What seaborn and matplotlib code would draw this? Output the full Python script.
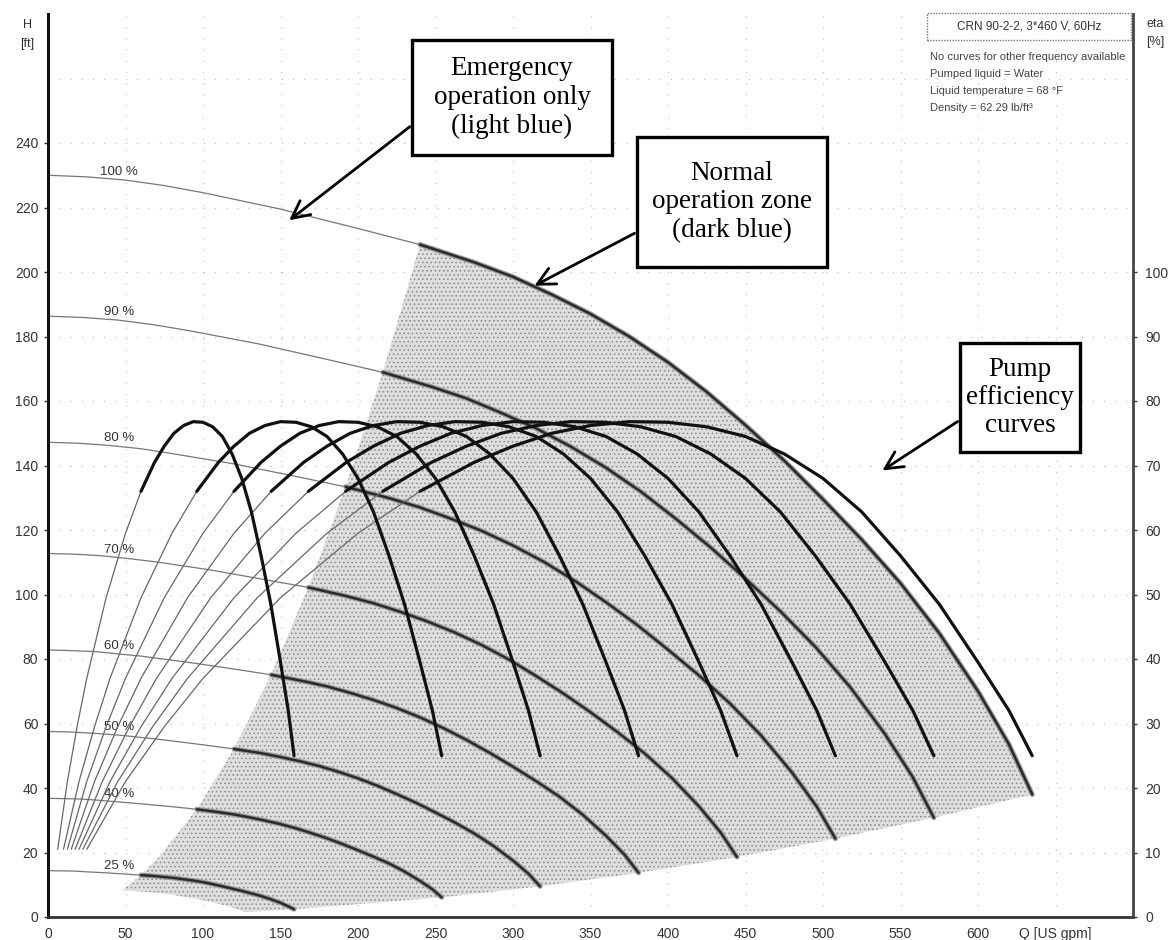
import numpy as np
import seaborn as sns
import matplotlib
matplotlib.use("Agg")
import matplotlib.pyplot as plt
from matplotlib.patches import Rectangle, Polygon, FancyArrowPatch

sns.set_theme(style="white")
plt.rcParams["font.family"] = ["Liberation Sans", "DejaVu Sans"]
plt.rcParams["hatch.linewidth"] = 0.6

# ---- pump curves, CRN 90-2-2 (flow in US gpm, head in ft) ----
speed_labels = ["100 %", "90 %", "80 %", "70 %", "60 %", "50 %", "40 %", "25 %"]

flow_100 = [0, 25, 50, 75, 100, 150, 200, 240, 275, 300, 325, 350, 375, 400,
            425, 450, 475, 500, 525, 550, 575, 600, 620, 635]
head_100 = [230.0, 229.5, 228.5, 226.8, 224.6, 219.5, 213.5, 208.5, 203.0, 198.5, 193.0, 187.0,
            180.0, 172.0, 162.8, 152.5, 141.5, 129.5, 117.0, 103.5, 88.0, 70.0, 53.5, 38.0]

flow_90 = [0, 22.5, 45, 67.5, 90, 135, 180, 216, 247.5, 270, 292.5, 315, 337.5, 360,
           382.5, 405, 427.5, 450, 472.5, 495, 517.5, 540, 558, 571.5]
head_90 = [186.3, 185.9, 185.1, 183.7, 181.9, 177.8, 172.9, 168.9, 164.4, 160.8, 156.3, 151.5,
           145.8, 139.3, 131.9, 123.5, 114.6, 104.9, 94.8, 83.8, 71.3, 56.7, 43.3, 30.8]

flow_80 = [0, 20, 40, 60, 80, 120, 160, 192, 220, 240, 260, 280, 300, 320,
           340, 360, 380, 400, 420, 440, 460, 480, 496, 508]
head_80 = [147.2, 146.9, 146.2, 145.2, 143.7, 140.5, 136.6, 133.4, 129.9, 127.0, 123.5, 119.7,
           115.2, 110.1, 104.2, 97.6, 90.6, 82.9, 74.9, 66.2, 56.3, 44.8, 34.2, 24.3]

flow_70 = [0, 17.5, 35, 52.5, 70, 105, 140, 168, 192.5, 210, 227.5, 245, 262.5, 280,
           297.5, 315, 332.5, 350, 367.5, 385, 402.5, 420, 434, 444.5]
head_70 = [112.7, 112.5, 112.0, 111.1, 110.1, 107.6, 104.6, 102.2, 99.5, 97.3, 94.6, 91.6,
           88.2, 84.3, 79.8, 74.7, 69.3, 63.5, 57.3, 50.7, 43.1, 34.3, 26.2, 18.6]

flow_60 = [0, 15, 30, 45, 60, 90, 120, 144, 165, 180, 195, 210, 225, 240,
           255, 270, 285, 300, 315, 330, 345, 360, 372, 381]
head_60 = [82.8, 82.6, 82.3, 81.6, 80.9, 79.0, 76.9, 75.1, 73.1, 71.5, 69.5, 67.3,
           64.8, 61.9, 58.6, 54.9, 50.9, 46.6, 42.1, 37.3, 31.7, 25.2, 19.3, 13.7]

flow_50 = [0, 12.5, 25, 37.5, 50, 75, 100, 120, 137.5, 150, 162.5, 175, 187.5, 200,
           212.5, 225, 237.5, 250, 262.5, 275, 287.5, 300, 310, 317.5]
head_50 = [57.5, 57.4, 57.1, 56.7, 56.2, 54.9, 53.4, 52.1, 50.8, 49.6, 48.3, 46.8,
           45.0, 43.0, 40.7, 38.1, 35.4, 32.4, 29.3, 25.9, 22.0, 17.5, 13.4, 9.5]

flow_40 = [0, 10, 20, 30, 40, 60, 80, 96, 110, 120, 130, 140, 150, 160,
           170, 180, 190, 200, 210, 220, 230, 240, 248, 254]
head_40 = [36.8, 36.7, 36.6, 36.3, 35.9, 35.1, 34.2, 33.4, 32.5, 31.8, 30.9, 29.9,
           28.8, 27.5, 26.0, 24.4, 22.6, 20.7, 18.7, 16.6, 14.1, 11.2, 8.6, 6.1]

flow_25 = [0, 6.25, 12.5, 18.75, 25, 37.5, 50, 60, 68.75, 75, 81.25, 87.5, 93.75, 100,
           106.25, 112.5, 118.75, 125, 131.25, 137.5, 143.75, 150, 155, 158.75]
head_25 = [14.4, 14.3, 14.3, 14.2, 14.0, 13.7, 13.3, 13.0, 12.7, 12.4, 12.1, 11.7,
           11.3, 10.8, 10.2, 9.5, 8.8, 8.1, 7.3, 6.5, 5.5, 4.4, 3.3, 2.4]

# efficiency (right axis, %) at each curve's flows, starting from its second flow point
eta_values = [10.5, 21.0, 29.5, 37.0, 49.5, 59.5, 66.0, 70.5, 73.0, 75.0, 76.2, 76.8,
              76.7, 76.0, 74.5, 71.8, 68.0, 62.8, 56.0, 48.5, 39.5, 32.0, 25.0]

# normal operation zone: right edge (max flow), bottom edge, left edge (min flow)
zone_right_flow = [571.5, 508, 444.5, 381, 317.5, 254, 158.75, 127]
zone_right_head = [30.8, 24.3, 18.6, 13.7, 9.5, 6.1, 2.4, 1.5]
zone_bottom_flow = [120, 110, 100, 90, 80, 70, 60, 48]
zone_bottom_head = [2.8, 4.1, 5.2, 6.1, 6.9, 7.5, 7.9, 8.3]
zone_left_flow = [60, 72, 96, 120, 144, 168, 192, 216]
zone_left_head = [13.0, 18.8, 33.4, 52.1, 75.1, 102.2, 133.4, 168.9]

flows = [flow_100, flow_90, flow_80, flow_70, flow_60, flow_50, flow_40, flow_25]
heads = [head_100, head_90, head_80, head_70, head_60, head_50, head_40, head_25]
split = 7  # first point of the normal operation range on each curve

W, H = 1170, 940
fig = plt.figure(figsize=(W / 100, H / 100), dpi=100)
fig.patch.set_facecolor("white")


def fx(px):
    return px / W


def fy(py):
    return 1 - py / H


ax = fig.add_axes([fx(48), fy(917), fx(1133) - fx(48), fy(14) - fy(917)])
ax.set_xlim(0, 700)
ax.set_ylim(0, 280)
ax.set_facecolor("white")

# sparse dotted grid
for q in range(50, 700, 50):
    ax.axvline(q, color="#bdbdbd", lw=0.8, ls=(0, (1, 9)), zorder=0.5)
for hh in range(20, 280, 20):
    ax.axhline(hh, color="#bdbdbd", lw=0.8, ls=(0, (1, 9)), zorder=0.5)

# normal operation zone
zone_q = flow_100[split:] + zone_right_flow + zone_bottom_flow + zone_left_flow
zone_h = head_100[split:] + zone_right_head + zone_bottom_head + zone_left_head
ax.add_patch(Polygon(np.column_stack([zone_q, zone_h]), closed=True,
                     facecolor="#dedede", edgecolor="#888888", hatch="....",
                     lw=0, zorder=1))

# Q-H curves: thin in the emergency range, heavy in the normal range
for q, h, lab in zip(flows, heads, speed_labels):
    sns.lineplot(x=q[:split + 1], y=h[:split + 1], ax=ax, color="#777777",
                 lw=0.9, estimator=None, sort=False, zorder=2)
    sns.lineplot(x=q[split:], y=h[split:], ax=ax, color="#9a9a9a",
                 lw=3.6, estimator=None, sort=False, zorder=3)
    sns.lineplot(x=q[split:], y=h[split:], ax=ax, color="#2a2a2a",
                 lw=1.8, estimator=None, sort=False, zorder=3.1)
    ax.text(46, np.interp(46, q, h) + 2.5, lab, fontsize=9.5, color="#333333",
            ha="center", va="center", zorder=5)

# efficiency curves on the right axis
ax2 = ax.twinx()
ax2.set_ylim(0, 140)
ax2.patch.set_visible(False)
for q in flows:
    qe = q[1:]
    sns.lineplot(x=qe[:split], y=eta_values[:split], ax=ax2,
                 color="#666666", lw=0.9, estimator=None, sort=False, zorder=2)
    sns.lineplot(x=qe[split - 1:], y=eta_values[split - 1:], ax=ax2,
                 color="#111111", lw=2.3, estimator=None, sort=False, zorder=4)

# axes, ticks, labels
ax.set_xticks(range(0, 700, 50))
ax.set_xticklabels([str(v) for v in range(0, 650, 50)] + ["Q [US gpm]"])
ax.set_yticks(range(0, 260, 20))
ax2.set_yticks(range(0, 110, 10))
for a in (ax, ax2):
    a.set_xlabel("")
    a.set_ylabel("")
    a.grid(False)
    for s in a.spines.values():
        s.set_visible(False)
ax.spines["left"].set_visible(True)
ax.spines["left"].set_color("#111111")
ax.spines["left"].set_linewidth(2.2)
ax.spines["bottom"].set_visible(True)
ax.spines["bottom"].set_color("#333333")
ax.spines["bottom"].set_linewidth(2.0)
ax2.spines["right"].set_visible(True)
ax2.spines["right"].set_color("#444444")
ax2.spines["right"].set_linewidth(2.0)
ax.tick_params(axis="both", labelsize=10, colors="#333333", length=3, width=1, pad=4)
ax2.tick_params(axis="y", labelsize=10, colors="#333333", length=3, width=1, pad=6)

fig.text(fx(27), fy(25), "H", fontsize=9, color="#333333", ha="center", va="center")
fig.text(fx(27), fy(44), "[ft]", fontsize=9, color="#333333", ha="center", va="center")
fig.text(fx(1155), fy(24), "eta", fontsize=9, color="#333333", ha="center", va="center")
fig.text(fx(1155), fy(42), "[%]", fontsize=9, color="#333333", ha="center", va="center")

# pump info
fig.patches.append(Rectangle((fx(927), fy(40)), fx(1131) - fx(927), fy(13) - fy(40),
                             transform=fig.transFigure, facecolor="white",
                             edgecolor="#777777", lw=1.0, ls=(0, (1, 1)), zorder=6))
fig.text(fx(1029), fy(26.5), "CRN 90-2-2, 3*460 V, 60Hz", fontsize=8.5,
         color="#333333", ha="center", va="center", zorder=7)
info = ["No curves for other frequency available", "Pumped liquid = Water",
        "Liquid temperature = 68 \u00b0F", "Density = 62.29 lb/ft\u00b3"]
for i, line in enumerate(info):
    fig.text(fx(930), fy(57 + 17 * i), line, fontsize=8, color="#444444",
             ha="left", va="center")

# callout boxes
serif = ["Liberation Serif", "DejaVu Serif"]
callouts = [
    ((412, 40, 612, 155), "Emergency\noperation only\n(light blue)", (412, 125), (287, 222)),
    ((637, 137, 827, 267), "Normal\noperation zone\n(dark blue)", (637, 232), (532, 287)),
    ((960, 343, 1080, 452), "Pump\nefficiency\ncurves", (960, 420), (880, 472)),
]
for (x0, y0, x1, y1), txt, start, tip in callouts:
    fig.patches.append(Rectangle((fx(x0), fy(y1)), fx(x1) - fx(x0), fy(y0) - fy(y1),
                                 transform=fig.transFigure, facecolor="white",
                                 edgecolor="black", lw=2.4, zorder=8))
    fig.text(fx((x0 + x1) / 2), fy((y0 + y1) / 2), txt, family=serif, fontsize=19.5,
             color="black", ha="center", va="center", linespacing=1.18, zorder=9)
    fig.add_artist(FancyArrowPatch(
        (fx(start[0]), fy(start[1])), (fx(tip[0]), fy(tip[1])),
        transform=fig.transFigure, arrowstyle="->,head_length=0.9,head_width=0.45",
        mutation_scale=14, lw=2.0, color="black", zorder=9))

fig.savefig("out.png", dpi=100, facecolor="white")
